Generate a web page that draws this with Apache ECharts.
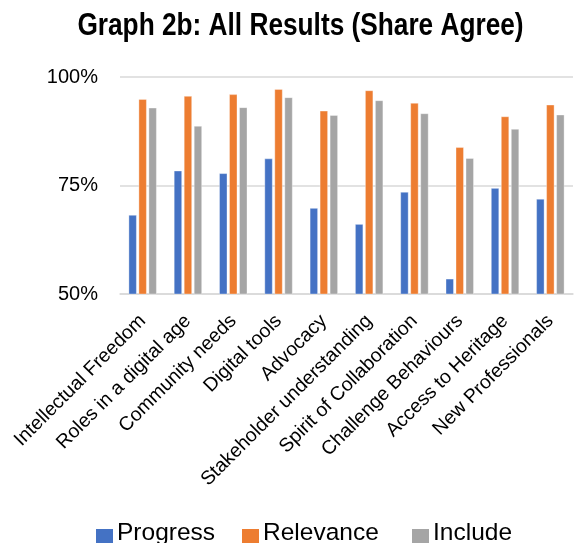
<!DOCTYPE html>
<html>
<head>
<meta charset="utf-8">
<script src="https://cdn.jsdelivr.net/npm/echarts@6/dist/echarts.min.js"></script>
<style>
html,body{margin:0;padding:0;background:#fff;}
#chart{width:574px;height:543px;}
</style>
</head>
<body>
<div id="chart"></div>
<script>
var categories = ["Intellectual Freedom","Roles in a digital age","Community needs","Digital tools","Advocacy","Stakeholder understanding","Spirit of Collaboration","Challenge Behaviours","Access to Heritage","New Professionals"];
var progress  = [68.2, 78.4, 77.8, 81.2, 69.8, 66.1, 73.5, 53.5, 74.4, 71.9];
var relevance = [94.9, 95.6, 96.0, 97.2, 92.2, 96.9, 94.0, 83.8, 90.9, 93.6];
var include   = [92.9, 88.7, 93.0, 95.3, 91.2, 94.6, 91.6, 81.3, 88.0, 91.3];
var seriesNames = ["Progress", "Relevance", "Include"];
var yTicks = [50, 75, 100];
var titleText = "Graph 2b: All Results (Share Agree)";

var chart = echarts.init(document.getElementById('chart'), null, {renderer:'canvas'});
var font = "'Liberation Sans', Arial, sans-serif";
function bar(name, data, color){
  return {name:name, type:'bar', data:data, barWidth:8, barGap:'25%',
    itemStyle:{color:color, borderColor:'rgba(255,255,255,0.7)', borderWidth:0.5}};
}
var legendIcon = 'path://M0,0L17,0L17,0Z M0,5L17,5L17,19L0,19Z';
function leg(name, left){
  return {data:[name], left:left, top:521, padding:0, itemWidth:17, itemHeight:19, icon:legendIcon,
    itemStyle:{borderWidth:0},
    textStyle:{fontFamily:font, fontSize:24.5, color:'#000', padding:[0,0,0,-1]}};
}
chart.setOption({
  animation:false,
  backgroundColor:'#fff',
  graphic:[{type:'text', x:300.5, y:10.5, scaleX:0.82, scaleY:1,
    style:{text:titleText, fontFamily:font, fontWeight:'bold', fontSize:32, fill:'#000',
      align:'center', textAlign:'center', verticalAlign:'top', textVerticalAlign:'top'}}],
  grid:{left:120, right:1, top:77, bottom:249, containLabel:false},
  legend:[leg(seriesNames[0], 96), leg(seriesNames[1], 242), leg(seriesNames[2], 412)],
  xAxis:{type:'category', data:categories,
    axisLine:{show:true, lineStyle:{color:'#d9d9d9', width:1.5}},
    axisTick:{show:false},
    axisLabel:{rotate:45, interval:0, margin:24, fontFamily:font, fontSize:19.5, color:'#000'}},
  yAxis:{type:'value', min:yTicks[0], max:yTicks[yTicks.length-1], interval:25,
    axisLine:{show:false}, axisTick:{show:false},
    splitLine:{lineStyle:{color:'#d9d9d9', width:1.5}},
    axisLabel:{margin:22, fontFamily:font, fontSize:20, color:'#000', formatter:function(v){return v+'%';}}},
  series:[bar(seriesNames[0], progress, '#4472C4'), bar(seriesNames[1], relevance, '#ED7D31'), bar(seriesNames[2], include, '#A5A5A5')]
});
</script>
</body>
</html>
